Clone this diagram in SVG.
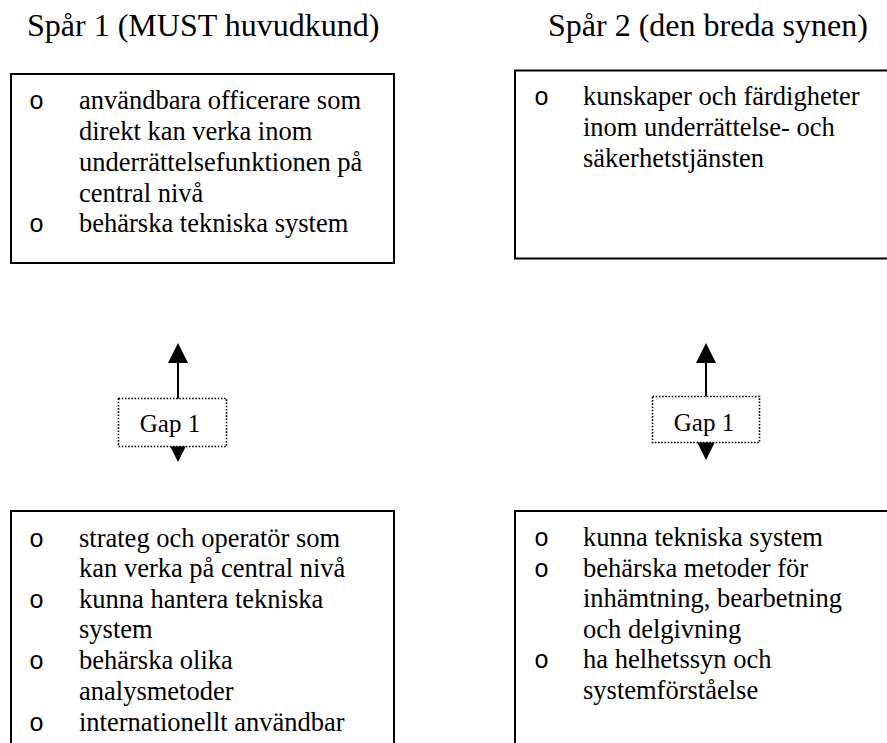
<svg xmlns="http://www.w3.org/2000/svg" width="887" height="743" viewBox="0 0 887 743">
  <style>
    .title { font-family: "Liberation Serif", "Times New Roman", serif; font-size: 32px; fill: #000; }
    .body { font-family: "Liberation Serif", "Times New Roman", serif; font-size: 26.5px; fill: #000; }
    .bullet { font-family: "Liberation Mono", "Courier New", monospace; font-size: 25px; fill: #000; }
    .gap { font-family: "Liberation Serif", "Times New Roman", serif; font-size: 25px; fill: #000; }
    .box { fill: #fff; stroke: #000; stroke-width: 2; }
    .gapbox { fill: #fff; stroke: #000; stroke-width: 1.6; stroke-dasharray: 1.6 1.6; }
    .conn { stroke: #000; stroke-width: 2; fill: none; }
    .head { fill: #000; }
  </style>

  <!-- column titles -->
  <text class="title" x="27" y="36">Spår 1 (MUST huvudkund)</text>
  <text class="title" x="548" y="36">Spår 2 (den breda synen)</text>

  <!-- track 1, upper requirements -->
  <g id="spar1-krav">
    <rect class="box" x="11" y="74" width="383" height="189"/>
    <text class="bullet" x="29" y="109">o</text>
    <text class="bullet" x="29" y="232">o</text>
    <text class="body" x="79" y="109">användbara officerare som</text>
    <text class="body" x="79" y="140">direkt kan verka inom</text>
    <text class="body" x="79" y="171">underrättelsefunktionen på</text>
    <text class="body" x="79" y="202">central nivå</text>
    <text class="body" x="79" y="232">behärska tekniska system</text>
  </g>

  <!-- track 2, upper requirements -->
  <g id="spar2-krav">
    <rect class="box" x="515" y="70.5" width="380" height="188"/>
    <text class="bullet" x="534" y="105">o</text>
    <text class="body" x="583" y="105">kunskaper och färdigheter</text>
    <text class="body" x="583" y="136">inom underrättelse- och</text>
    <text class="body" x="583" y="167">säkerhetstjänsten</text>
  </g>

  <!-- connectors -->
  <g id="connectors">
    <line class="conn" x1="178" y1="360" x2="178" y2="445"/>
    <polygon class="head" points="178,343 168,363 188,363"/>
    <polygon class="head" points="178,462 168,442 188,442"/>
    <line class="conn" x1="706" y1="360" x2="706" y2="443"/>
    <polygon class="head" points="706,343 696,363 716,363"/>
    <polygon class="head" points="706,460 696,440 716,440"/>
  </g>

  <!-- gap labels -->
  <g id="gap1-vanster">
    <rect class="gapbox" x="118.5" y="398.5" width="108" height="48"/>
    <text class="gap" x="170" y="432" text-anchor="middle">Gap 1</text>
  </g>
  <g id="gap1-hoger">
    <rect class="gapbox" x="652.5" y="396.5" width="107" height="46"/>
    <text class="gap" x="704" y="431" text-anchor="middle">Gap 1</text>
  </g>

  <!-- track 1, lower outcomes -->
  <g id="spar1-utfall">
    <rect class="box" x="11" y="511" width="383" height="260"/>
    <text class="bullet" x="29" y="547">o</text>
    <text class="bullet" x="29" y="608">o</text>
    <text class="bullet" x="29" y="669">o</text>
    <text class="bullet" x="29" y="731">o</text>
    <text class="body" x="79" y="547">strateg och operatör som</text>
    <text class="body" x="79" y="577">kan verka på central nivå</text>
    <text class="body" x="79" y="608">kunna hantera tekniska</text>
    <text class="body" x="79" y="638">system</text>
    <text class="body" x="79" y="669">behärska olika</text>
    <text class="body" x="79" y="700">analysmetoder</text>
    <text class="body" x="79" y="731">internationellt användbar</text>
  </g>

  <!-- track 2, lower outcomes -->
  <g id="spar2-utfall">
    <rect class="box" x="515" y="511" width="380" height="260"/>
    <text class="bullet" x="534" y="546">o</text>
    <text class="bullet" x="534" y="576.5">o</text>
    <text class="bullet" x="534" y="668">o</text>
    <text class="body" x="583" y="546">kunna tekniska system</text>
    <text class="body" x="583" y="576.5">behärska metoder för</text>
    <text class="body" x="583" y="607">inhämtning, bearbetning</text>
    <text class="body" x="583" y="637.5">och delgivning</text>
    <text class="body" x="583" y="668">ha helhetssyn och</text>
    <text class="body" x="583" y="698.5">systemförståelse</text>
  </g>
</svg>
